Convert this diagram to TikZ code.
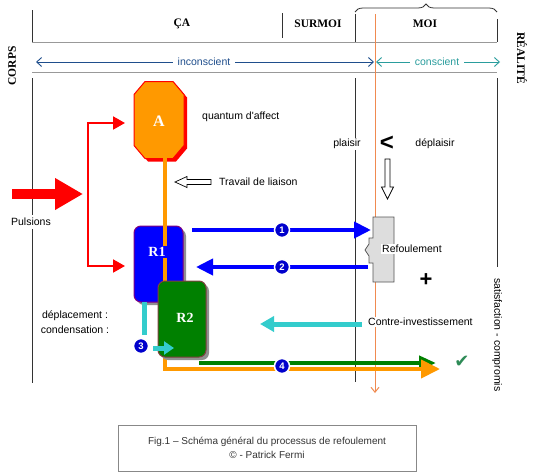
\documentclass[tikz,border=0pt]{standalone}
\usepackage{fontspec}
\setmainfont{Liberation Sans}
\newfontfamily\hdrfont{Liberation Serif}
\newfontfamily\symfont{DejaVu Sans}
\usetikzlibrary{arrows.meta,decorations.pathreplacing}
\definecolor{cOrange}{HTML}{FF9900}
\definecolor{cRed}{HTML}{FF0000}
\definecolor{cBlue}{HTML}{0000FF}
\definecolor{cPurple}{HTML}{800080}
\definecolor{cGreen}{HTML}{008000}
\definecolor{cBrown}{HTML}{804040}
\definecolor{cCyan}{HTML}{33CCCC}
\definecolor{cThin}{HTML}{F08A50}
\definecolor{cNavy}{HTML}{1F4E8C}
\definecolor{cTeal}{HTML}{2A9D9D}
\definecolor{cCheck}{HTML}{2E8B57}
\definecolor{cNum}{HTML}{0000CC}
\definecolor{cLine}{HTML}{333333}
\definecolor{cGrayLine}{HTML}{999999}
\definecolor{cBox}{HTML}{DDDDDD}
\definecolor{cBoxLine}{HTML}{555555}
\definecolor{cShadow}{HTML}{909090}
\definecolor{cCapLine}{HTML}{888888}
\definecolor{cCapText}{HTML}{333333}
\begin{document}
\begin{tikzpicture}[x=1pt,y=-1pt, line join=miter,
 txt/.style={font=\fontsize{10.5}{12.5}\selectfont, inner sep=1pt, text=black},
 hdr/.style={font=\hdrfont\bfseries\fontsize{11.5}{13}\selectfont, inner sep=0pt},
 vln/.style={draw=cLine, line width=0.9pt},
 hln/.style={draw=cGrayLine, line width=0.9pt},
 num/.style={circle, fill=cNum, draw=white, line width=1.5pt, inner sep=0pt, minimum size=15pt, text=white, font=\bfseries\fontsize{9.5}{9.5}\selectfont},
 bluearr/.style={draw=cBlue, line width=4pt, -{Triangle[length=17pt,width=16pt]}},
 lbox/.style={font=\hdrfont\bfseries\fontsize{14}{14}\selectfont, text=white, inner sep=1.5pt},
 openarr/.style={fill=white, draw=black, line width=0.7pt},
]
\useasboundingbox (0,0) rectangle (533,474);
\fill[white] (0,0) rectangle (533,474);

% header
\draw[vln] (32,10) -- (32,42);
\draw[vln] (282,13) -- (282,38);
\draw[vln] (355,14) -- (355,42);
\draw[vln] (497,19) -- (497,42);
\draw[hln] (32,42) -- (497,42);
\draw[hln] (32,72) -- (497,72);
\draw[draw=cLine, line width=0.8pt, decorate, decoration={brace, amplitude=8pt}] (355,12) -- (497,12);
\node[hdr] (ca) at (182,24) {ÇA};
\node[hdr] (surmoi) at (318,24) {SURMOI};
\node[hdr] (moi) at (425,24) {MOI};
\node[hdr, rotate=90] (corps) at (12,66) {CORPS};
\node[hdr, rotate=-90] (realite) at (522,58) {RÉALITÉ};

% inconscient / conscient
\coordinate (ic1) at (36,62); \coordinate (ic2) at (374,62);
\coordinate (co1) at (376,62); \coordinate (co2) at (500,62);
\draw[draw=cNavy, line width=0.9pt, {Straight Barb[length=5pt,width=9pt]}-{Straight Barb[length=5pt,width=9pt]}] (ic1) -- (ic2);
\node[txt, fill=white, text=cNavy, inner xsep=5pt] (incons) at (204,62) {inconscient};
\draw[draw=cTeal, line width=0.9pt, {Straight Barb[length=5pt,width=9pt]}-{Straight Barb[length=5pt,width=9pt]}] (co1) -- (co2);
\node[txt, fill=white, text=cTeal, inner xsep=5pt] (cons) at (437,62) {conscient};

% body lines
\draw[vln] (32,78) -- (32,383);
\draw[vln] (355,78) -- (355,382);
\draw[vln] (497,78) -- (497,267);
\node[txt, rotate=-90, anchor=west] (satis) at (497,277) {satisfaction - compromis};
\node[txt, fill=white, inner ysep=3pt] (puls) at (31,222) {Pulsions};

% thin orange line
\draw[cThin, line width=1pt, -{Straight Barb[length=5pt,width=8pt]}] (375,14) -- (375,393);

% plaisir / deplaisir
\node[txt, fill=white] (plaisir) at (347,144) {plaisir};
\node[font=\bfseries\fontsize{24}{24}\selectfont, inner sep=0pt] (lt) at (387,143) {<};
\node[txt] (deplaisir) at (435,144) {déplaisir};
\filldraw[openarr] (385,159) -- (390,159) -- (390,187) -- (393.5,187) -- (387.5,199) -- (381.5,187) -- (385,187) -- cycle;

% travail de liaison
\filldraw[openarr] (175,182) -- (187,176.5) -- (187,179.5) -- (211,179.5) -- (211,184.5) -- (187,184.5) -- (187,187.5) -- cycle;
\node[txt, anchor=west] (travail) at (218,182) {Travail de liaison};
\node[txt, anchor=west] (quantum) at (201,117) {quantum d\textquotesingle affect};

% Pulsions big arrow
\coordinate (p1) at (12,194); \coordinate (p2) at (83,194);
\draw[cRed, line width=10pt, -{Triangle[length=28pt,width=30pt]}] (p1) -- (p2);
% red connector
\coordinate (ra) at (125,123); \coordinate (rb) at (125,266);
\draw[cRed, line width=2pt, {Triangle[length=12pt,width=13pt]}-{Triangle[length=12pt,width=13pt]}] (ra) -- (88,123) -- (88,266) -- (rb);

% octagon A
\fill[cRed, shift={(3,3)}] (145,81.5) -- (173,81.5) -- (184,94.5) -- (184,145.5) -- (173,158.5) -- (145,158.5) -- (134,145.5) -- (134,94.5) -- cycle;
\filldraw[fill=cOrange, draw=cRed, line width=1pt] (145,81.5) -- (173,81.5) -- (184,94.5) -- (184,145.5) -- (173,158.5) -- (145,158.5) -- (134,145.5) -- (134,94.5) -- cycle;
\node[lbox, font=\hdrfont\bfseries\fontsize{16}{16}\selectfont] (A) at (159,121) {A};

% R1
\fill[cShadow, rounded corners=7pt] (137,229) rectangle (186,305);
\node[draw=cPurple, fill=cBlue, line width=1pt, rounded corners=7pt, minimum width=49pt, minimum height=76pt, inner sep=0pt] (R1) at (158.5,264) {};

% green arrow
\coordinate (g1) at (199,363); \coordinate (g2) at (436,363);
\draw[cGreen, line width=4pt, -{Triangle[length=17pt,width=14pt]}] (g1) -- (g2);

% orange thick line
\coordinate (o1) at (165,158); \coordinate (o2) at (440,369);
\draw[cOrange, line width=4pt, -{Triangle[length=19pt,width=18pt]}] (o1) -- (165,369) -- (o2);
\node[lbox, fill=cBlue] (R1l) at (157,252) {R1};

% R2
\fill[cShadow, rounded corners=7pt] (161,284) rectangle (209,360);
\node[draw=cBrown, fill=cGreen, line width=1pt, rounded corners=7pt, minimum width=48pt, minimum height=76pt, inner sep=0pt] (R2) at (182,319) {};
\node[lbox] (R2l) at (185,318) {R2};

% cyan deplacement
\draw[cCyan, line width=5pt] (144,302) -- (144,335);
\coordinate (c1) at (153,348); \coordinate (c2) at (174,348);
\draw[cCyan, line width=5pt, -{Triangle[length=10pt,width=13pt]}] (c1) -- (c2);
\node[num] (n3) at (141,346) {3};
\node[txt] (depl) at (75,316) {déplacement :};
\node[txt] (cond) at (75,330) {condensation :};

% Refoulement box
\filldraw[fill=cBox, draw=cBoxLine, line width=0.8pt] (373,217) -- (394,217) -- (394,282) -- (373,282) -- (373,263) -- (369,263) -- (369,256) -- (365,250) -- (369,244) -- (369,238) -- (373,238) -- cycle;
\node[txt, fill=white, anchor=west] (refoul) at (381,249) {Refoulement};

% blue arrows
\coordinate (b1s) at (192,230); \coordinate (b1e) at (371,230);
\coordinate (b2s) at (368,267); \coordinate (b2e) at (196,267);
\draw[bluearr] (b1s) -- (b1e);
\draw[bluearr] (b2s) -- (b2e);
\node[num] (n1) at (282,230) {1};
\node[num] (n2) at (282,267) {2};
\node[num] (n4) at (282,366) {4};

% contre-investissement
\coordinate (ci1) at (362,324); \coordinate (ci2) at (260,324);
\draw[cCyan, line width=5pt, -{Triangle[length=14pt,width=15pt]}] (ci1) -- (ci2);
\node[txt, fill=white, anchor=west] (contre) at (367,322) {Contre-investissement};

\node[font=\bfseries\fontsize{22}{22}\selectfont, inner sep=0pt] (plus) at (426,280) {+};
\node[text=cCheck, font=\symfont\fontsize{18}{18}\selectfont, inner sep=0pt] (ok) at (462,362) {✔};

% caption
\node[draw=cCapLine, line width=0.8pt, minimum width=298pt, minimum height=46pt] (cap) at (267,448) {};
\node[txt, text=cCapText, font=\fontsize{10}{14}\selectfont, align=center] (captxt) at (cap.center) {Fig.1 – Schéma général du processus de refoulement\\© - Patrick Fermi};
\end{tikzpicture}
\end{document}
